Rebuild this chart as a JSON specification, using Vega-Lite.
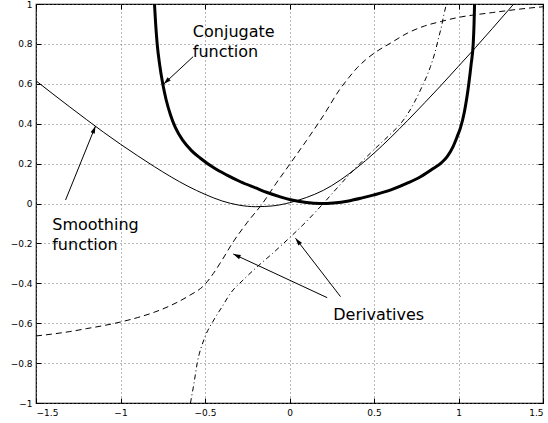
{
  "$schema": "https://vega.github.io/schema/vega-lite/v6.json",
  "autosize": "none",
  "width": 507,
  "height": 399,
  "padding": {"left": 36, "top": 4, "right": 5, "bottom": 20},
  "background": "white",
  "config": {
    "view": {"stroke": "black", "strokeWidth": 1.2},
    "axis": {
      "domain": false,
      "tickColor": "black",
      "tickSize": -5,
      "tickWidth": 1,
      "labelFont": "DejaVu Sans",
      "labelFontSize": 9,
      "labelColor": "black",
      "gridColor": "#707070",
      "gridDash": [1, 3],
      "gridWidth": 1,
      "gridOpacity": 1,
      "title": null
    }
  },
  "datasets": {
    "smooth": [
      {"x": -1.5, "y": 0.615}, {"x": -1.4, "y": 0.549}, {"x": -1.3, "y": 0.484}, {"x": -1.2, "y": 0.42},
      {"x": -1.1, "y": 0.357}, {"x": -1.0, "y": 0.297}, {"x": -0.9, "y": 0.24}, {"x": -0.8, "y": 0.185},
      {"x": -0.7, "y": 0.133}, {"x": -0.6, "y": 0.086}, {"x": -0.5, "y": 0.046}, {"x": -0.4, "y": 0.013},
      {"x": -0.3, "y": -0.008}, {"x": -0.2, "y": -0.016}, {"x": -0.1, "y": -0.012}, {"x": 0.0, "y": 0.004},
      {"x": 0.1, "y": 0.03}, {"x": 0.2, "y": 0.066}, {"x": 0.3, "y": 0.117}, {"x": 0.4, "y": 0.18},
      {"x": 0.5, "y": 0.252}, {"x": 0.6, "y": 0.332}, {"x": 0.7, "y": 0.417}, {"x": 0.8, "y": 0.505},
      {"x": 0.9, "y": 0.595}, {"x": 1.0, "y": 0.688}, {"x": 1.1, "y": 0.781}, {"x": 1.2, "y": 0.877},
      {"x": 1.3, "y": 0.974}, {"x": 1.327, "y": 1.0}
    ],
    "conj": [
      {"x": -0.799, "y": 1.0}, {"x": -0.792, "y": 0.9}, {"x": -0.783, "y": 0.8}, {"x": -0.769, "y": 0.7},
      {"x": -0.75, "y": 0.6}, {"x": -0.73, "y": 0.52}, {"x": -0.704, "y": 0.444}, {"x": -0.675, "y": 0.38},
      {"x": -0.63, "y": 0.315}, {"x": -0.58, "y": 0.265}, {"x": -0.527, "y": 0.227}, {"x": -0.45, "y": 0.18},
      {"x": -0.37, "y": 0.142}, {"x": -0.29, "y": 0.109}, {"x": -0.2, "y": 0.078}, {"x": -0.132, "y": 0.055},
      {"x": -0.05, "y": 0.032}, {"x": 0.006, "y": 0.019}, {"x": 0.1, "y": 0.005}, {"x": 0.18, "y": 0.0},
      {"x": 0.26, "y": 0.003}, {"x": 0.35, "y": 0.013}, {"x": 0.43, "y": 0.028}, {"x": 0.5, "y": 0.043},
      {"x": 0.6, "y": 0.068}, {"x": 0.7, "y": 0.103}, {"x": 0.775, "y": 0.134}, {"x": 0.85, "y": 0.175},
      {"x": 0.9, "y": 0.205}, {"x": 0.933, "y": 0.235}, {"x": 0.965, "y": 0.28}, {"x": 0.992, "y": 0.335},
      {"x": 1.012, "y": 0.38}, {"x": 1.035, "y": 0.46}, {"x": 1.061, "y": 0.6}, {"x": 1.075, "y": 0.7},
      {"x": 1.087, "y": 0.8}, {"x": 1.092, "y": 0.9}, {"x": 1.095, "y": 1.0}
    ],
    "dsmooth": [
      {"x": -1.5, "y": -0.664}, {"x": -1.4, "y": -0.654}, {"x": -1.3, "y": -0.642}, {"x": -1.2, "y": -0.627},
      {"x": -1.1, "y": -0.612}, {"x": -1.0, "y": -0.594}, {"x": -0.9, "y": -0.572}, {"x": -0.8, "y": -0.545},
      {"x": -0.7, "y": -0.51}, {"x": -0.6, "y": -0.465}, {"x": -0.5, "y": -0.405}, {"x": -0.45, "y": -0.35},
      {"x": -0.4, "y": -0.285}, {"x": -0.339, "y": -0.2}, {"x": -0.25, "y": -0.095}, {"x": -0.16, "y": 0.0},
      {"x": -0.08, "y": 0.1}, {"x": 0.0, "y": 0.195}, {"x": 0.1, "y": 0.315}, {"x": 0.2, "y": 0.44},
      {"x": 0.3, "y": 0.575}, {"x": 0.35, "y": 0.63}, {"x": 0.4, "y": 0.68}, {"x": 0.45, "y": 0.72},
      {"x": 0.5, "y": 0.753}, {"x": 0.6, "y": 0.805}, {"x": 0.7, "y": 0.855}, {"x": 0.8, "y": 0.89},
      {"x": 0.9, "y": 0.913}, {"x": 1.0, "y": 0.933}, {"x": 1.1, "y": 0.946}, {"x": 1.2, "y": 0.957},
      {"x": 1.3, "y": 0.968}, {"x": 1.4, "y": 0.978}, {"x": 1.5, "y": 0.986}
    ],
    "dconj": [
      {"x": -0.586, "y": -1.0}, {"x": -0.565, "y": -0.9}, {"x": -0.546, "y": -0.8}, {"x": -0.507, "y": -0.684},
      {"x": -0.448, "y": -0.584}, {"x": -0.4, "y": -0.519}, {"x": -0.349, "y": -0.45}, {"x": -0.27, "y": -0.38},
      {"x": -0.191, "y": -0.317}, {"x": -0.1, "y": -0.25}, {"x": -0.014, "y": -0.183}, {"x": 0.1, "y": -0.09},
      {"x": 0.2, "y": 0.0}, {"x": 0.3, "y": 0.095}, {"x": 0.38, "y": 0.168}, {"x": 0.5, "y": 0.27},
      {"x": 0.6, "y": 0.35}, {"x": 0.647, "y": 0.39}, {"x": 0.7, "y": 0.45}, {"x": 0.775, "y": 0.569},
      {"x": 0.834, "y": 0.686}, {"x": 0.86, "y": 0.755}, {"x": 0.884, "y": 0.836}, {"x": 0.9, "y": 0.89},
      {"x": 0.913, "y": 0.945}, {"x": 0.929, "y": 1.0}
    ],
    "labels": [
      {"x": -0.572, "y": 0.836, "text": "Conjugate"},
      {"x": -0.572, "y": 0.734, "text": "function"},
      {"x": -1.404, "y": -0.133, "text": "Smoothing"},
      {"x": -1.404, "y": -0.233, "text": "function"},
      {"x": 0.259, "y": -0.584, "text": "Derivatives"}
    ],
    "arrows": [
      {"id": "a1", "x": -0.57, "y": 0.736, "x2": -0.744, "y2": 0.599},
      {"id": "a2", "x": -1.325, "y": 0.0175, "x2": -1.148, "y2": 0.388},
      {"id": "a3", "x": 0.223, "y": -0.472, "x2": -0.333, "y2": -0.253},
      {"id": "a4", "x": 0.302, "y": -0.467, "x2": 0.0355, "y2": -0.174}
    ]
  },
  "layer": [
    {
      "data": {"name": "smooth"},
      "mark": {"type": "line", "color": "black", "strokeWidth": 1, "interpolate": "monotone", "clip": true},
      "encoding": {
        "x": {"field": "x", "type": "quantitative", "scale": {"domain": [-1.5, 1.5], "nice": false, "zero": false},
              "axis": {"orient": "bottom", "values": [-1.5, -1, -0.5, 0, 0.5, 1, 1.5], "format": "~g", "grid": true, "labelPadding": 10}},
        "y": {"field": "y", "type": "quantitative", "scale": {"domain": [-1, 1], "nice": false, "zero": false},
              "axis": {"orient": "left", "values": [-1, -0.8, -0.6, -0.4, -0.2, 0, 0.2, 0.4, 0.6, 0.8, 1], "format": "~g", "grid": true, "labelPadding": 9}}
      }
    },
    {
      "data": {"name": "conj"},
      "mark": {"type": "line", "color": "black", "strokeWidth": 3, "interpolate": "monotone", "clip": true},
      "encoding": {
        "x": {"field": "x", "type": "quantitative",
              "axis": {"orient": "top", "values": [-1.5, -1, -0.5, 0, 0.5, 1, 1.5], "labels": false, "grid": false}},
        "y": {"field": "y", "type": "quantitative",
              "axis": {"orient": "right", "values": [-1, -0.8, -0.6, -0.4, -0.2, 0, 0.2, 0.4, 0.6, 0.8, 1], "labels": false, "grid": false}}
      }
    },
    {
      "data": {"name": "dsmooth"},
      "mark": {"type": "line", "color": "black", "strokeWidth": 1, "strokeDash": [6, 4], "interpolate": "monotone", "clip": true},
      "encoding": {
        "x": {"field": "x", "type": "quantitative", "axis": null},
        "y": {"field": "y", "type": "quantitative", "axis": null}
      }
    },
    {
      "data": {"name": "dconj"},
      "mark": {"type": "line", "color": "black", "strokeWidth": 1, "strokeDash": [5, 3, 1, 3], "interpolate": "monotone", "clip": true},
      "encoding": {
        "x": {"field": "x", "type": "quantitative", "axis": null},
        "y": {"field": "y", "type": "quantitative", "axis": null}
      }
    },
    {
      "data": {"name": "arrows"},
      "mark": {"type": "rule", "color": "black", "strokeWidth": 1},
      "encoding": {
        "x": {"field": "x", "type": "quantitative", "axis": null},
        "y": {"field": "y", "type": "quantitative", "axis": null},
        "x2": {"field": "x2"},
        "y2": {"field": "y2"}
      }
    },
    {
      "data": {"name": "arrows"},
      "transform": [{"filter": "datum.id == 'a1'"}],
      "mark": {"type": "point", "shape": "M0,0L0.6,2L-0.6,2Z", "filled": true, "color": "black", "opacity": 1, "size": 56, "angle": 226},
      "encoding": {
        "x": {"field": "x2", "type": "quantitative", "axis": null},
        "y": {"field": "y2", "type": "quantitative", "axis": null}
      }
    },
    {
      "data": {"name": "arrows"},
      "transform": [{"filter": "datum.id == 'a2'"}],
      "mark": {"type": "point", "shape": "M0,0L0.6,2L-0.6,2Z", "filled": true, "color": "black", "opacity": 1, "size": 56, "angle": 22},
      "encoding": {
        "x": {"field": "x2", "type": "quantitative", "axis": null},
        "y": {"field": "y2", "type": "quantitative", "axis": null}
      }
    },
    {
      "data": {"name": "arrows"},
      "transform": [{"filter": "datum.id == 'a3'"}],
      "mark": {"type": "point", "shape": "M0,0L0.6,2L-0.6,2Z", "filled": true, "color": "black", "opacity": 1, "size": 56, "angle": 295},
      "encoding": {
        "x": {"field": "x2", "type": "quantitative", "axis": null},
        "y": {"field": "y2", "type": "quantitative", "axis": null}
      }
    },
    {
      "data": {"name": "arrows"},
      "transform": [{"filter": "datum.id == 'a4'"}],
      "mark": {"type": "point", "shape": "M0,0L0.6,2L-0.6,2Z", "filled": true, "color": "black", "opacity": 1, "size": 56, "angle": 322},
      "encoding": {
        "x": {"field": "x2", "type": "quantitative", "axis": null},
        "y": {"field": "y2", "type": "quantitative", "axis": null}
      }
    },
    {
      "data": {"name": "labels"},
      "mark": {"type": "text", "align": "left", "baseline": "alphabetic", "font": "DejaVu Sans", "fontSize": 16, "color": "black"},
      "encoding": {
        "x": {"field": "x", "type": "quantitative", "axis": null},
        "y": {"field": "y", "type": "quantitative", "axis": null},
        "text": {"field": "text"}
      }
    }
  ]
}
